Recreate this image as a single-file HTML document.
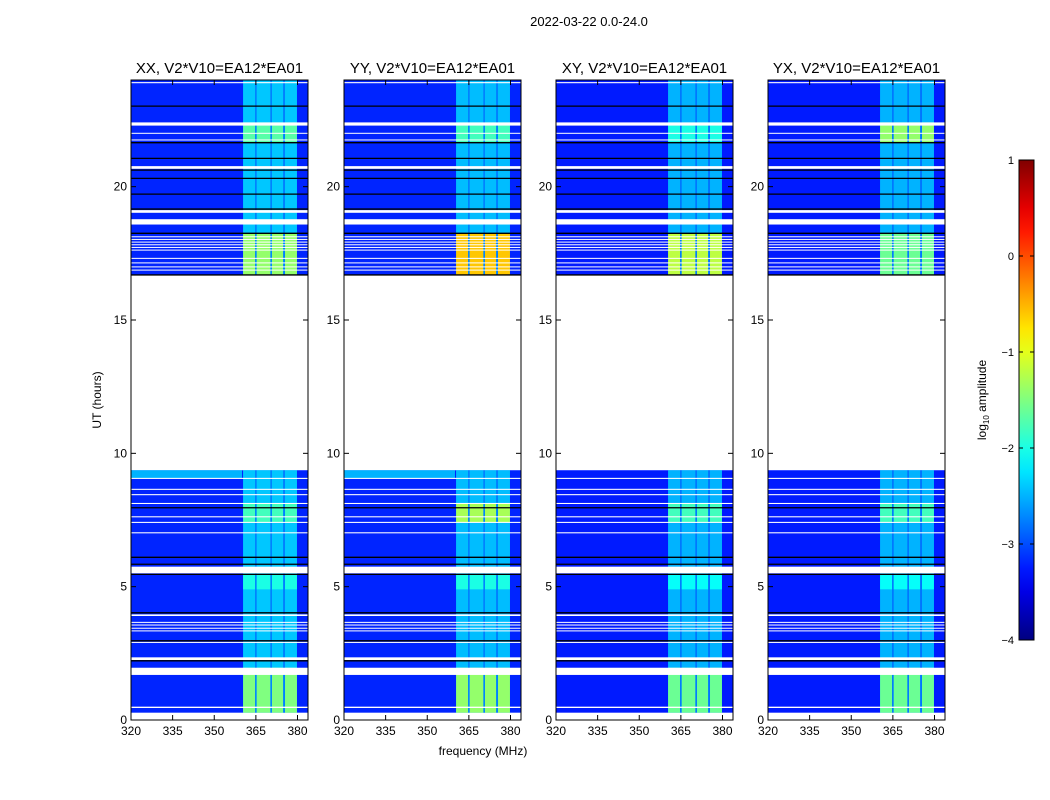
<!DOCTYPE html>
<html><head><meta charset="utf-8">
<style>
body{margin:0;background:#fff;width:1050px;height:800px;overflow:hidden;font-family:"Liberation Sans",sans-serif;}
svg{display:block}
</style></head>
<body>
<svg id="fig" width="1050" height="800" xmlns="http://www.w3.org/2000/svg" font-family="Liberation Sans, sans-serif">
<text x="589" y="26" font-size="13" text-anchor="middle">2022-03-22 0.0-24.0</text>
<text transform="translate(101,400) rotate(-90)" font-size="12" text-anchor="middle">UT (hours)</text>
<text x="483" y="755" font-size="12" text-anchor="middle">frequency (MHz)</text>
<g id="panels"></g>
<g id="cbar"></g>
</svg>
<script>
// ---- data ----
const panelNames = ["XX, V2*V10=EA12*EA01","YY, V2*V10=EA12*EA01","XY, V2*V10=EA12*EA01","YX, V2*V10=EA12*EA01"];
const xTicks = [320,335,350,365,380];
const yTicks = [0,5,10,15,20];
const cbarTicks = [1,0,-1,-2,-3,-4];
const dataPeriods = [[0.27,9.37],[16.69,24]];
const subBands = [[360.4,364.7],[365.3,370.2],[370.8,374.8],[375.5,379.8]];
const backgroundLevel = [-3.2,-3.2,-3.25,-3.25];
const bandBaseLevel = [-2.4,-2.45,-2.5,-2.5];
const gapLevel = [-2.75,-2.75,-2.8,-2.8];
const tintRow = [9.07,9.37];
const tintLevel = [-2.5,-2.5,null,null];
const brightBlocks = [[16.69,18.25],[21.65,22.41],[0.27,1.96],[7.41,8.12],[4.9,5.46]];
const brightXX = [-1.4,-1.7,-1.5,-1.8,-2.0];
const brightYY = [-0.6,-1.8,-1.4,-1.3,-2.0];
const brightXY = [-1.2,-2.0,-1.6,-1.8,-2.1];
const brightYX = [-1.6,-1.4,-1.6,-1.8,-2.1];
const whiteFlags = [[0,0.27],[0.45,0.5],[1.69,1.96],[2.25,2.35],[2.89,2.93],[3.33,3.36],[3.43,3.46],[3.55,3.58],[3.65,3.68],[3.9,3.96],[5.5,5.75],[7.0,7.04],[7.39,7.43],[7.6,7.64],[8.1,8.14],[8.43,8.47],[8.63,8.67],[9.04,9.08],[9.37,16.69],[16.86,16.89],[16.98,17.01],[17.13,17.16],[17.3,17.33],[17.61,17.64],[17.71,17.74],[17.81,17.84],[17.91,17.94],[18.01,18.04],[18.11,18.14],[18.58,18.78],[19.02,19.12],[20.67,20.77],[21.74,21.77],[21.99,22.02],[22.29,22.41],[23.88,23.92]];
const blackLines = [2.22,2.97,4.02,5.46,5.84,6.1,7.96,16.69,18.25,19.16,19.72,20.31,20.62,21.06,21.65,23.02];

// ---- layout ----
const panelLeft=[131,344,556,768], PW=177, TOP=80, BOT=720;
const brightByPanel=[brightXX,brightYY,brightXY,brightYX];
const NS="http://www.w3.org/2000/svg";
function yS(h){return BOT-(h/24)*(BOT-TOP);}
function xS(p,f){return panelLeft[p]+(f-320)*2.775;}
function jet(v){
  let t=Math.max(0,Math.min(1,(v+4)/5));
  function c(x){return Math.max(0,Math.min(1,x));}
  const r=c(1.5-Math.abs(4*t-3)), g=c(1.5-Math.abs(4*t-2)), b=c(1.5-Math.abs(4*t-1));
  return `rgb(${Math.round(r*255)},${Math.round(g*255)},${Math.round(b*255)})`;
}
function mk(tag,attrs,parent){const e=document.createElementNS(NS,tag);for(const k in attrs)e.setAttribute(k,attrs[k]);parent.appendChild(e);return e;}
const root=document.getElementById('panels');
for(let p=0;p<4;p++){
  const g=mk('g',{},root);
  
  
  const L=panelLeft[p], R=L+PW;
  dataPeriods.forEach(d=>{
    const r=mk('rect',{x:L,y:yS(d[1]),width:PW,height:yS(d[0])-yS(d[1]),fill:jet(backgroundLevel[p])},g);
    
    
    const gp=mk('rect',{x:xS(p,subBands[0][0]),y:yS(d[1]),width:xS(p,subBands[3][1])-xS(p,subBands[0][0]),height:yS(d[0])-yS(d[1]),fill:jet(gapLevel[p])},g);
    
    
    subBands.forEach(b=>{
      const s=mk('rect',{x:xS(p,b[0]),y:yS(d[1]),width:xS(p,b[1])-xS(p,b[0]),height:yS(d[0])-yS(d[1]),fill:jet(bandBaseLevel[p])},g);
      
      
    });
  });
  if(tintLevel[p]!==null){
    const t=mk('rect',{x:L,y:yS(tintRow[1]),width:xS(p,360)-L,height:yS(tintRow[0])-yS(tintRow[1]),fill:jet(tintLevel[p])},g);
    
    
  }
  brightBlocks.forEach((bb,i)=>{
    subBands.forEach(b=>{
      const s=mk('rect',{x:xS(p,b[0]),y:yS(bb[1]),width:xS(p,b[1])-xS(p,b[0]),height:yS(bb[0])-yS(bb[1]),fill:jet(brightByPanel[p][i])},g);
      
      
    });
  });
  whiteFlags.forEach(w=>{
    const s=mk('rect',{x:L,y:yS(w[1]),width:PW,height:Math.max(1,yS(w[0])-yS(w[1])),fill:'#fff'},g);
    
    
  });
  blackLines.forEach(h=>{
    const s=mk('line',{x1:L,x2:R,y1:yS(h),y2:yS(h),stroke:'#000','stroke-width':1.3},g);
    
    
  });
  const fr=mk('rect',{x:L,y:TOP,width:PW,height:BOT-TOP,fill:'none',stroke:'#000','stroke-width':1},g);
  
  
  const tt=mk('text',{x:L+PW/2,y:73,'font-size':15,'text-anchor':'middle'},g);
  tt.textContent=panelNames[p];
  
  
  xTicks.forEach(f=>{
    const x=xS(p,f);
    mk('line',{x1:x,x2:x,y1:BOT,y2:BOT-5,stroke:'#000'},g);
    mk('line',{x1:x,x2:x,y1:TOP,y2:TOP+5,stroke:'#000'},g);
    const t=mk('text',{x:x,y:BOT+15,'font-size':12,'text-anchor':'middle'},g);
    t.textContent=f;
    
    
  });
  yTicks.forEach(h=>{
    const y=yS(h);
    mk('line',{x1:L,x2:L+5,y1:y,y2:y,stroke:'#000'},g);
    mk('line',{x1:R,x2:R-5,y1:y,y2:y,stroke:'#000'},g);
    const t=mk('text',{x:L-4,y:y+4,'font-size':12,'text-anchor':'end'},g);
    t.textContent=h;
    
    
  });
}
// colorbar
const cb=document.getElementById('cbar');
const CX=1019,CW=15,CT=160,CB=640;
const defs=mk('defs',{},cb);
const grad=mk('linearGradient',{id:'jetg',x1:0,y1:1,x2:0,y2:0},defs);
for(let i=0;i<=20;i++){mk('stop',{offset:i/20,'stop-color':jet(-4+5*i/20)},grad);}
mk('rect',{x:CX,y:CT,width:CW,height:CB-CT,fill:'url(#jetg)',stroke:'#000'},cb);
cbarTicks.forEach(v=>{
  const y=CB-(v+4)/5*(CB-CT);
  mk('line',{x1:CX,x2:CX+4,y1:y,y2:y,stroke:'#000'},cb);
  mk('line',{x1:CX+CW,x2:CX+CW-4,y1:y,y2:y,stroke:'#000'},cb);
  const t=mk('text',{x:CX-5,y:y+4,'font-size':11,'text-anchor':'end'},cb);
  t.textContent=v<0?('\u2212'+Math.abs(v)):v;
  
  
});
const cl=mk('text',{transform:'translate(986,400) rotate(-90)','font-size':12,'text-anchor':'middle'},cb);
cl.innerHTML='log<tspan font-size="8" dy="3">10</tspan><tspan dy="-3"> amplitude</tspan>';


</script>
</body></html>
